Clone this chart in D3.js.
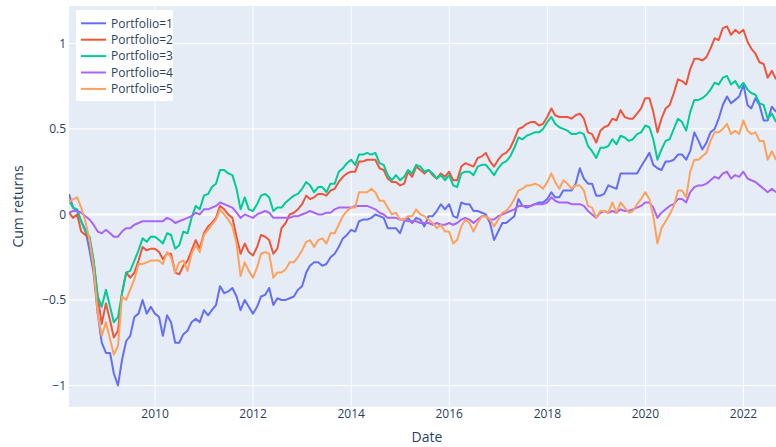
<!DOCTYPE html>
<html lang="en">
<head>
    <meta charset="UTF-8">
    <title>Cum returns by portfolio</title>
    <script src="https://d3js.org/d3.v7.min.js"></script>
    <style>
        body {
            margin: 0;
            padding: 0;
            background: #fff;
        }
        svg {
            display: block;
            font-family: "Open Sans", verdana, arial, sans-serif;
        }
        .tick-label {
            fill: #2a3f5f;
            font-size: 12px;
        }
        .axis-title {
            fill: #2a3f5f;
            font-size: 14px;
        }
    </style>
</head>
<body>
    <div id="chart"></div>

    <script>
        // monthly observations, month ends 2008-03-31 .. 2022-08-31
        const firstMonth = new Date(Date.UTC(2008, 3, 1));
        const endMonth = new Date(Date.UTC(2022, 9, 1));
        const dates = d3.utcMonth.range(firstMonth, endMonth).map(d => d3.utcDay.offset(d, -1));

        const portfolios = ["Portfolio=1", "Portfolio=2", "Portfolio=3", "Portfolio=4", "Portfolio=5"];
        const colors = ["#636efa", "#EF553B", "#00cc96", "#ab63fa", "#FFA15A"];

        const p1 = [
            0.12, 0.04, 0.02, -0.04, -0.09, -0.21, -0.34, -0.58, -0.75, -0.81, -0.81, -0.93,
            -1.00, -0.85, -0.74, -0.71, -0.60, -0.58, -0.50, -0.58, -0.54, -0.58, -0.60, -0.71,
            -0.59, -0.63, -0.75, -0.75, -0.70, -0.68, -0.63, -0.61, -0.63, -0.56, -0.59, -0.56,
            -0.53, -0.42, -0.46, -0.45, -0.43, -0.48, -0.56, -0.50, -0.54, -0.58, -0.54, -0.48,
            -0.47, -0.43, -0.53, -0.49, -0.50, -0.50, -0.49, -0.48, -0.44, -0.42, -0.34, -0.30,
            -0.28, -0.28, -0.30, -0.29, -0.25, -0.23, -0.19, -0.14, -0.12, -0.09, -0.10, -0.04,
            -0.03, -0.03, -0.02, 0.00, -0.01, -0.02, -0.08, -0.08, -0.08, -0.11, -0.04, -0.02,
            -0.05, -0.02, -0.03, -0.07, -0.01, -0.01, 0.02, 0.06, 0.03, 0.06, -0.01, -0.02,
            0.07, 0.06, 0.06, 0.02, 0.02, 0.01, 0.00, -0.05, -0.15, -0.10, -0.05, -0.05,
            -0.03, -0.01, 0.09, 0.05, 0.04, 0.05, 0.06, 0.07, 0.07, 0.09, 0.13, 0.10,
            0.10, 0.14, 0.14, 0.14, 0.18, 0.27, 0.21, 0.18, 0.18, 0.11, 0.11, 0.12,
            0.17, 0.16, 0.15, 0.24, 0.24, 0.24, 0.24, 0.24, 0.28, 0.32, 0.36, 0.29,
            0.27, 0.26, 0.31, 0.31, 0.32, 0.35, 0.35, 0.32, 0.37, 0.48, 0.43, 0.38,
            0.42, 0.48, 0.50, 0.56, 0.64, 0.69, 0.65, 0.67, 0.69, 0.76, 0.64, 0.62,
            0.68, 0.64, 0.55, 0.55, 0.63, 0.60
        ];
        const p2 = [
            0.01, -0.02, 0.00, -0.10, -0.12, -0.14, -0.27, -0.48, -0.64, -0.52, -0.62, -0.72,
            -0.68, -0.46, -0.34, -0.37, -0.34, -0.27, -0.19, -0.21, -0.20, -0.20, -0.22, -0.26,
            -0.23, -0.23, -0.34, -0.35, -0.30, -0.27, -0.21, -0.15, -0.20, -0.11, -0.07, -0.05,
            -0.02, 0.05, 0.03, 0.00, -0.02, -0.13, -0.23, -0.17, -0.22, -0.24, -0.19, -0.12,
            -0.13, -0.15, -0.23, -0.20, -0.08, -0.05, 0.00, 0.01, 0.03, 0.06, 0.11, 0.09,
            0.10, 0.12, 0.12, 0.11, 0.14, 0.15, 0.19, 0.22, 0.24, 0.25, 0.25, 0.31,
            0.31, 0.32, 0.32, 0.32, 0.27, 0.26, 0.21, 0.19, 0.19, 0.17, 0.18, 0.25,
            0.22, 0.28, 0.26, 0.24, 0.26, 0.23, 0.21, 0.24, 0.22, 0.25, 0.20, 0.20,
            0.28, 0.30, 0.29, 0.28, 0.33, 0.34, 0.36, 0.31, 0.28, 0.32, 0.35, 0.36,
            0.39, 0.44, 0.50, 0.51, 0.53, 0.54, 0.54, 0.52, 0.53, 0.57, 0.62, 0.58,
            0.57, 0.57, 0.57, 0.56, 0.58, 0.59, 0.56, 0.48, 0.47, 0.42, 0.49, 0.51,
            0.52, 0.56, 0.55, 0.61, 0.57, 0.56, 0.56, 0.59, 0.62, 0.68, 0.68, 0.60,
            0.48, 0.56, 0.62, 0.64, 0.71, 0.79, 0.78, 0.76, 0.85, 0.91, 0.91, 0.90,
            0.92, 0.97, 1.03, 1.02, 1.09, 1.10, 1.05, 1.08, 1.06, 1.08, 1.01, 0.97,
            0.94, 0.89, 0.88, 0.80, 0.84, 0.79
        ];
        const p3 = [
            0.08, 0.04, 0.03, -0.04, -0.10, -0.13, -0.27, -0.48, -0.54, -0.44, -0.54, -0.63,
            -0.60, -0.46, -0.34, -0.33, -0.27, -0.21, -0.14, -0.16, -0.13, -0.13, -0.15, -0.17,
            -0.11, -0.12, -0.20, -0.18, -0.10, -0.11, -0.02, 0.05, 0.03, 0.11, 0.12, 0.16,
            0.18, 0.26, 0.26, 0.24, 0.23, 0.15, 0.03, 0.10, 0.03, 0.02, 0.06, 0.11,
            0.12, 0.10, 0.02, 0.04, 0.04, 0.07, 0.09, 0.11, 0.12, 0.15, 0.19, 0.17,
            0.13, 0.16, 0.16, 0.13, 0.18, 0.18, 0.25, 0.27, 0.30, 0.32, 0.29, 0.35,
            0.35, 0.36, 0.35, 0.36, 0.30, 0.29, 0.23, 0.20, 0.23, 0.20, 0.22, 0.26,
            0.24, 0.29, 0.28, 0.25, 0.26, 0.24, 0.21, 0.23, 0.20, 0.23, 0.17, 0.16,
            0.24, 0.25, 0.25, 0.23, 0.28, 0.29, 0.29, 0.26, 0.23, 0.27, 0.30, 0.31,
            0.34, 0.39, 0.45, 0.44, 0.46, 0.47, 0.48, 0.48, 0.50, 0.54, 0.57, 0.53,
            0.51, 0.50, 0.49, 0.47, 0.47, 0.48, 0.47, 0.40, 0.37, 0.33, 0.39, 0.39,
            0.40, 0.44, 0.41, 0.46, 0.45, 0.43, 0.44, 0.47, 0.48, 0.52, 0.51, 0.44,
            0.32, 0.38, 0.43, 0.44, 0.50, 0.56, 0.54, 0.49, 0.60, 0.67, 0.67, 0.68,
            0.70, 0.73, 0.77, 0.76, 0.80, 0.81, 0.76, 0.78, 0.74, 0.77, 0.73, 0.71,
            0.70, 0.65, 0.64, 0.56, 0.59, 0.54
        ];
        const p4 = [
            0.01, 0.02, 0.02, 0.01, -0.01, -0.03, -0.06, -0.10, -0.11, -0.09, -0.11, -0.13,
            -0.13, -0.10, -0.08, -0.08, -0.06, -0.05, -0.04, -0.04, -0.04, -0.04, -0.04, -0.04,
            -0.02, -0.03, -0.05, -0.04, -0.03, -0.02, -0.01, 0.01, 0.00, 0.03, 0.03, 0.04,
            0.05, 0.07, 0.06, 0.05, 0.04, 0.01, -0.02, 0.00, -0.01, -0.02, 0.00, 0.01,
            0.02, 0.01, -0.02, -0.02, -0.02, -0.02, -0.02, -0.01, -0.01, 0.00, 0.01, 0.02,
            0.01, 0.00, 0.00, 0.01, 0.01, 0.03, 0.04, 0.04, 0.04, 0.04, 0.05, 0.05,
            0.05, 0.05, 0.04, 0.03, 0.01, 0.00, -0.02, -0.02, -0.02, -0.03, -0.03, -0.04,
            -0.04, -0.04, -0.05, -0.05, -0.05, -0.06, -0.05, -0.06, -0.06, -0.05, -0.06, -0.05,
            -0.03, -0.02, -0.03, -0.05, -0.03, -0.01, -0.01, -0.03, -0.03, -0.01, 0.00, 0.01,
            0.02, 0.03, 0.05, 0.05, 0.05, 0.05, 0.06, 0.06, 0.06, 0.07, 0.10, 0.08,
            0.07, 0.07, 0.07, 0.06, 0.06, 0.06, 0.05, 0.02, 0.00, -0.02, 0.01, 0.02,
            0.01, 0.02, 0.01, 0.03, 0.02, 0.02, 0.03, 0.04, 0.05, 0.07, 0.07, 0.04,
            -0.02, 0.01, 0.03, 0.05, 0.06, 0.09, 0.09, 0.07, 0.13, 0.16, 0.17, 0.17,
            0.18, 0.20, 0.22, 0.21, 0.24, 0.25, 0.21, 0.23, 0.22, 0.25, 0.21, 0.20,
            0.19, 0.17, 0.15, 0.13, 0.15, 0.13
        ];
        const p5 = [
            0.07, 0.09, 0.10, 0.04, -0.04, -0.15, -0.31, -0.58, -0.71, -0.63, -0.73, -0.82,
            -0.77, -0.48, -0.50, -0.44, -0.38, -0.29, -0.29, -0.28, -0.27, -0.27, -0.27, -0.29,
            -0.22, -0.25, -0.34, -0.28, -0.27, -0.33, -0.23, -0.18, -0.22, -0.12, -0.09, -0.06,
            -0.03, 0.03, 0.00, -0.03, -0.07, -0.17, -0.36, -0.28, -0.33, -0.37, -0.31, -0.23,
            -0.22, -0.23, -0.37, -0.34, -0.34, -0.32, -0.28, -0.28, -0.25, -0.21, -0.16, -0.15,
            -0.19, -0.15, -0.14, -0.17, -0.11, -0.11, -0.06, -0.01, 0.02, 0.04, 0.04, 0.13,
            0.13, 0.13, 0.15, 0.13, 0.08, 0.08, 0.04, 0.00, 0.01, -0.03, -0.03, -0.01,
            -0.01, 0.03, 0.00, -0.01, -0.03, -0.05, -0.08, -0.06, -0.10, -0.10, -0.17, -0.15,
            -0.07, -0.03, -0.05, -0.10, -0.05, -0.01, -0.01, -0.03, -0.07, -0.03, 0.01, 0.02,
            0.05, 0.09, 0.14, 0.15, 0.17, 0.17, 0.18, 0.17, 0.15, 0.19, 0.24, 0.19,
            0.15, 0.20, 0.18, 0.15, 0.17, 0.17, 0.14, 0.05, 0.04, -0.02, 0.02, 0.02,
            0.01, 0.07, 0.01, 0.07, 0.04, 0.01, 0.02, 0.06, 0.09, 0.13, 0.09, -0.01,
            -0.17, -0.08, -0.04, 0.00, 0.05, 0.14, 0.14, 0.10, 0.25, 0.32, 0.32, 0.34,
            0.36, 0.43, 0.48, 0.48, 0.50, 0.53, 0.47, 0.49, 0.47, 0.55, 0.49, 0.47,
            0.48, 0.43, 0.43, 0.32, 0.37, 0.32
        ];
        const seriesValues = [p1, p2, p3, p4, p5];

        const yTicks = [-1, -0.5, 0, 0.5, 1];
        const yTickLabels = ["\u22121", "\u22120.5", "0", "0.5", "1"];
        const xTickYears = [2010, 2012, 2014, 2016, 2018, 2020, 2022];

        const width = 776;
        const height = 447;
        const plot = { left: 69, right: 776, top: 6, bottom: 407 };

        const svg = d3.select("#chart")
            .append("svg")
            .attr("width", width)
            .attr("height", height);

        const x = d3.scaleUtc()
            .domain([dates[0], dates[dates.length - 1]])
            .range([plot.left, plot.right]);

        const y = d3.scaleLinear()
            .domain([-1.126, 1.219])
            .range([plot.bottom, plot.top]);

        // plot background
        svg.append("rect")
            .attr("x", plot.left)
            .attr("y", plot.top)
            .attr("width", plot.right - plot.left)
            .attr("height", plot.bottom - plot.top)
            .attr("fill", "#E5ECF6");

        const xTicks = xTickYears.map(yr => new Date(Date.UTC(yr, 0, 1)));

        // grid
        svg.append("g")
            .selectAll("line")
            .data(xTicks)
            .enter().append("line")
            .attr("x1", d => x(d)).attr("x2", d => x(d))
            .attr("y1", plot.top).attr("y2", plot.bottom)
            .attr("stroke", "#fff").attr("stroke-width", 1);

        svg.append("g")
            .selectAll("line")
            .data(yTicks)
            .enter().append("line")
            .attr("x1", plot.left).attr("x2", plot.right)
            .attr("y1", d => y(d)).attr("y2", d => y(d))
            .attr("stroke", "#fff")
            .attr("stroke-width", d => d === 0 ? 2 : 1);

        // tick labels
        svg.append("g")
            .selectAll("text")
            .data(xTicks)
            .enter().append("text")
            .attr("class", "tick-label")
            .attr("x", d => x(d))
            .attr("y", 418)
            .attr("text-anchor", "middle")
            .text(d => d3.utcFormat("%Y")(d));

        svg.append("g")
            .selectAll("text")
            .data(yTicks)
            .enter().append("text")
            .attr("class", "tick-label")
            .attr("x", 66)
            .attr("y", d => y(d) + 4.2)
            .attr("text-anchor", "end")
            .text((d, i) => yTickLabels[i]);

        // axis titles
        svg.append("text")
            .attr("class", "axis-title")
            .attr("x", 427)
            .attr("y", 442)
            .attr("text-anchor", "middle")
            .text("Date");

        svg.append("text")
            .attr("class", "axis-title")
            .attr("transform", `translate(23,${(plot.top + plot.bottom) / 2}) rotate(-90)`)
            .attr("text-anchor", "middle")
            .text("Cum returns");

        // lines
        svg.append("clipPath")
            .attr("id", "plot-clip")
            .append("rect")
            .attr("x", plot.left)
            .attr("y", plot.top)
            .attr("width", plot.right - plot.left)
            .attr("height", plot.bottom - plot.top);

        const line = d3.line()
            .x((d, i) => x(dates[i]))
            .y(d => y(d));

        svg.append("g")
            .attr("clip-path", "url(#plot-clip)")
            .selectAll("path")
            .data(seriesValues)
            .enter().append("path")
            .attr("d", d => line(d))
            .attr("fill", "none")
            .attr("stroke", (d, i) => colors[i])
            .attr("stroke-width", 2)
            .attr("stroke-linejoin", "round");

        // legend
        const legend = svg.append("g");
        legend.append("rect")
            .attr("x", 76).attr("y", 10)
            .attr("width", 97).attr("height", 91)
            .attr("fill", "#fff");

        const item = legend.selectAll("g.item")
            .data(portfolios)
            .enter().append("g")
            .attr("class", "item")
            .attr("transform", (d, i) => `translate(0,${23.3 + i * 16.4})`);

        item.append("line")
            .attr("x1", 81).attr("x2", 106)
            .attr("y1", 0).attr("y2", 0)
            .attr("stroke", (d, i) => colors[i])
            .attr("stroke-width", 2);

        item.append("text")
            .attr("class", "tick-label")
            .attr("x", 111)
            .attr("y", 4.3)
            .text(d => d);
    </script>
</body>
</html>
